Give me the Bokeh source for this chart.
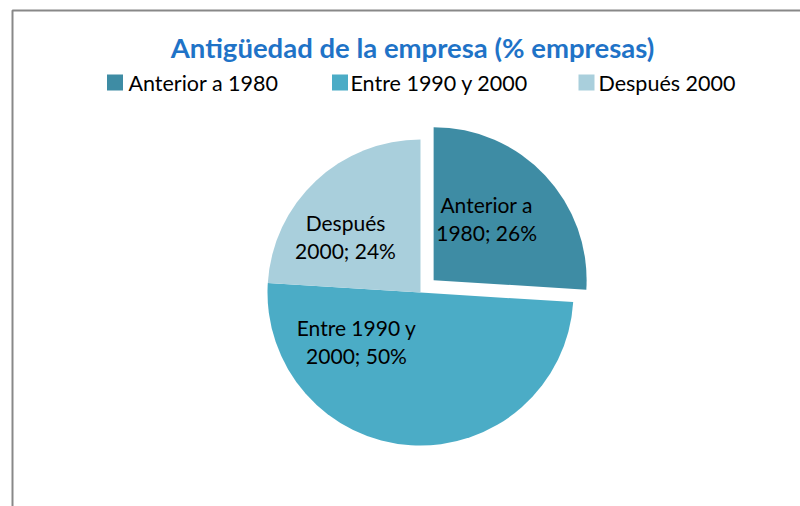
import numpy as np
from bokeh.plotting import figure
from bokeh.models import ColumnDataSource, Range1d
from bokeh.core.properties import value
from bokeh.embed import file_html
from bokeh.resources import INLINE

# ---------------- data ----------------
title_text = "Antigüedad de la empresa (% empresas)"
categories = ["Anterior a 1980", "Entre 1990 y 2000", "Después 2000"]
values = [26, 50, 24]

# ---------------- style / layout ----------------
colors = ["#3E8CA4", "#4BACC6", "#A9CFDC"]
title_color = "#1F73C7"
FONT = "Lato"
W, H = 800, 506
OFF = 0  # page offset of the figure


def px(x):
    return x - OFF


def py(y):
    return H - (y - OFF)


cx, cy, R = px(420), py(292), 153
explode = [18, 0, 0]
label_break = [2, 3, 1]                       # words on first line of each label
label_offset = [(53, 62), (-64, -49), (-75, 56)]  # slice centre -> label block centre
line_gap = 28
legend_y = py(82)
legend_swatch_x = [px(114.5), px(339.5), px(586)]
legend_text_x = [px(128), px(350), px(598)]

p = figure(width=W, height=H, output_backend="svg", toolbar_location=None,
           x_range=Range1d(0, W), y_range=Range1d(0, H), min_border=0,
           outline_line_color=None)
p.axis.visible = False
p.grid.visible = False
p.background_fill_color = "white"
p.border_fill_color = "white"

# chart frame (left and top edges visible)
p.line(x=[px(12), px(12), W + 20], y=[-20, py(10), py(10)],
       line_color="#888888", line_width=2)

# pie
vals = np.array(values, dtype=float)
frac = vals / vals.sum()
c1 = np.cumsum(frac)
c0 = c1 - frac
start = np.radians(90 - 360 * c1)
end = np.radians(90 - 360 * c0)
mid = (start + end) / 2
ex = np.array(explode, dtype=float)
xs = cx + ex * np.cos(mid)
ys = cy + ex * np.sin(mid)

src = ColumnDataSource(dict(x=xs, y=ys, start=start, end=end, color=colors))
p.wedge(x="x", y="y", radius=R, start_angle="start", end_angle="end",
        fill_color="color", line_color=None, source=src)

# data labels
lx, ly, lt = [], [], []
for i, (cat, v) in enumerate(zip(categories, values)):
    words = f"{cat}; {v}%".split()
    lines = [" ".join(words[:label_break[i]]), " ".join(words[label_break[i]:])]
    bx = xs[i] + label_offset[i][0]
    by = ys[i] + label_offset[i][1]
    for k, ln in enumerate(lines):
        lx.append(bx)
        ly.append(by + line_gap / 2 - k * line_gap)
        lt.append(ln)
p.text(x=lx, y=ly, text=lt, text_font=value(FONT), text_font_size="21px",
       text_color="black", text_align="center", text_baseline="middle")

# title
p.text(x=[px(412)], y=[py(47)], text=[title_text], text_font=value(FONT),
       text_font_size="27.5px", text_font_style="bold", text_color=title_color,
       text_align="center", text_baseline="middle")

# legend
p.scatter(x=legend_swatch_x, y=[legend_y] * 3, marker="square", size=16,
          fill_color=colors, line_color=None)
p.text(x=legend_text_x, y=[legend_y] * 3, text=categories, text_font=value(FONT),
       text_font_size="21.5px", text_color="black", text_align="left",
       text_baseline="middle")

open("out.html", "w").write(file_html(p, INLINE))
